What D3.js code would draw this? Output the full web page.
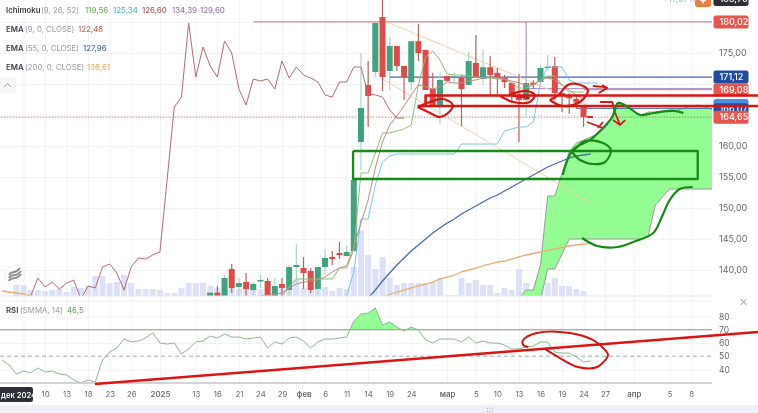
<!DOCTYPE html>
<meta charset="utf-8">
<style>
  html, body { margin: 0; padding: 0; background: #fff; overflow: hidden; }
  svg { display: block; font-family: Inter, "Noto Sans", sans-serif; filter: blur(0.35px); }
</style>

<!-- Load d3.js -->
<script src="https://d3js.org/d3.v7.min.js"></script>

<div id="my_dataviz"></div>

<script>

// bar index: 0 is the tick before "10", one bar per trading day
var candleStart = 26
var opens  = [135.65,136.34,135.65,140.16,137.26,138.06,136.77,138.23,138.23,135.65,137.74,136.77,140.48,140.32,139.84,136.94,140.48,142.1,142.74,142.26,143.06,160.65,169.84,171.94,180.8,172.1,176.13,172.9,170.3,176.9,175.5,169.2,166.6,171.3,171,171,169.84,173.4,170.8,172.7,171.8,171,170.16,167.9,167.4,170.2,170.32,172.6,172.9,168.55,168,167.6,166.29]
var highs  = [136.34,137.47,139.19,140.97,138.71,139.52,138.06,139.19,138.71,138.71,138.71,140.81,144.19,142.1,140.32,140.48,143.39,143.06,144.52,143.87,154.52,175,173.7,179.84,183.7,177.6,176.13,172.9,176.9,179.7,175.5,171.8,171.9,171.3,171.9,171.45,175.2,177.9,175.6,174.5,172.6,171.45,170.3,171.6,170.2,170.6,173.06,174.68,174.35,168.55,168.5,168,166.29]
var lows   = [135.65,135.65,135.65,136.29,135.65,135.81,135.65,137.1,135.65,135.65,135.65,135.65,138.06,136.94,136.29,135.97,139.19,140.81,141.77,142.26,143.06,156.13,163.06,171.13,168.87,169.03,172.1,167.4,169.03,173.7,169.03,166.45,163.5,170.5,170.2,163.2,169.84,171.1,169.84,168.2,167.9,169.35,167,160.65,164.52,169.2,170.32,172.3,167.42,165.5,165.2,166,163.06]
var closes = [136.34,135.65,138.71,137.1,137.9,136.94,137.74,138.39,135.65,137.42,137.1,140.48,140.81,139.52,136.77,140.48,141.94,141.77,142.42,142.9,154.52,166.13,168.06,179.84,171.13,176.13,172.9,171.13,176.9,175,169.03,166.45,170.65,170.5,171.2,169.2,173.7,171.1,172.7,171.45,171.1,170.3,168.2,167.4,170.16,169.9,172.58,172.8,168.55,168.23,167.7,167,164.65]

var volumeStart = -1
var volumes = [11,11,6,6,5,6,7,4,9,8,10,20,20,13,14,21,13,7,7,7,6,3,3,8,13,13,13,10,8,9,11,7,9,8,7,3,6,8,11,16,8,7,9,9,5,8,7,29,66,41,27,39,18,11,13,13,13,13,14,18,0.5,1,18,13,16,11,11,3,8,6,27,13,5,7,13,18,10,10,7,5]

// ichimoku
var chikouStart = 0
var chikou = [134,135.81,138.71,137.26,138.06,136.94,137.9,138.39,135.3,137.42,137.1,140.48,140.97,139.52,136.77,140.48,141.94,141.77,142.42,142.9,154.52,166.29,167.9,179.84,171.13,175.97,172.9,171.13,176.94,175,169.19,166.61,170.81,170.48,170.81,169.19,173.71,170.97,172.74,171.45,170.97,170.32,168.23,167.9,170.32,170.32,172.74,172.74,168.39,168.23,167.9,165.81,164.52,164.52]
var tenkanStart = 36
var tenkan = [135.81,137.26,138.55,138.55,138.55,138.55,138.55,138.55,140.32,140.32,143.23,155.65,155.65,158.87,162.1,162.1,162.42,162.74,163.39,169.84,174.35,175.32,173.87,171.61,171.45,171.45,171.29,171.13,170.97,170.97,170.81,170.81,170.16,169.35,169.35,169.84,170.65,171.29,171.29,169.84,168.71,168.71,168.71]
var kijunStart = 45
var kijun = [135.81,139.68,148.23,148.23,153.71,157.42,158.39,158.71,158.71,158.71,158.71,158.71,158.71,158.71,158.71,158.71,160.32,160.32,160.32,160.32,160.32,160.32,162.42,162.74,163.06,163.06,163.87,170.16,172.74,172.74,172.74,170.65,170.16,170.16,170.16,170.16]
var cloudStart = 69
var spanA = [135.48,136.77,136.77,140.81,151.94,151.94,155.65,159.03,160.48,160.97,161.45,161.94,162.9,164.52,167.1,166.29,165.65,165,165.48,165.48,165.65,165.81,165.81,166.13,166.45,166.61,166.29,165.81]
var spanB = [135.16,135.16,135.16,135.16,140.16,140.16,142.58,145,145,145,145,145,145,145,145,145,145,145,145.48,150.48,151.77,153.06,153.06,153.06,153.06,153.06,153.06,153.06]

// emas
var ema9Start = 33
var ema9 = [135.81,135.97,136.13,136.29,137.1,137.74,138.06,138.23,138.39,138.87,139.68,140.32,140.65,143.71,147.58,151.29,156.45,160.65,163.39,164.84,166.45,168.23,169.84,169.52,169.19,169.52,170.32,170.16,170.16,170.48,170.65,170.97,171.13,170.97,170.81,170.48,170.16,169.84,169.84,170.65,170.97,170.65,169.84,169.03,168.23,167.42]
var ema55Start = 48
var ema55 = [135.48,136.77,138.23,139.52,140.81,141.94,143.06,144.03,145,145.97,146.77,147.58,148.23,149.03,149.68,150.32,150.97,151.61,152.1,152.74,153.39,154.03,154.68,155.32,155.97,156.61,157.1,157.58,158.06,158.39,158.55,158.71]
var ema200LeftStart = -3
var ema200Left = [136.61,136.45,136.29,136.13,135.81]
var ema200Start = 50
var ema200 = [135.65,136.05,136.45,136.77,137.1,137.42,137.74,138.06,138.55,138.87,139.19,139.68,140,140.32,140.65,140.97,141.29,141.45,141.77,142.1,142.42,142.66,142.9,143.15,143.39,143.63,143.87,144.03,144.19,144.35]

// rsi
var rsiStart = -3
var rsi = [47.1,43.3,36.5,38.8,37.3,41.1,38,38.8,36.5,35.8,32,29.7,32,30.5,47.1,53.2,56.2,63,60.8,61.5,63.8,67.6,60,59.2,60,51.7,55.5,60.8,61.5,65.3,63.8,66.8,64.5,64.5,63,63.8,64.5,56.2,60.8,59.2,63.8,64.5,61.5,56.2,60.8,63,63,63.8,64.5,76.7,82,82.7,86.5,73.6,75.9,72.1,69.1,72.1,69.8,62.3,60,63,63,63,60.8,64.5,60,61.5,60,60,58.5,55.5,55.5,57,57.7,60.8,60.8,53.2,52.4,52.4,49.4,45.6,46.5]

// axis labels
var dateTicks  = [3,6,9,12,15,19,24,27,30,33,36,39,42,45,48,51,54,59,63,66,69,72,75,78,81,85,90,93]
var dateLabels = ["10","13","18","23","26","2025","13","16","21","24","29","фев","6","11","14","19","24","мар","5","10","13","16","19","24","27","апр","5","8"]
var boldLabels = ["2025","фев","мар","апр"]
var priceTicks = [175,160,155,150,145,140]
var priceGrid  = [180,175,170,165,160,155,150,145,140]
var rsiTicks   = [80,70,60,50,40]

// price levels and drawn trend lines, [bar, price]
var highLevel = 180.02
var kijunLevel = 171.12
var redLevel = 169.08
var purpleLevel = 169.24
var blueLevel = 166.07
var lastPrice = 164.65
var topLevel = 183.7
var purpleStart = 70
var trendUpper = [[50,180.3],[79,166.3]]
var trendLower = [[50,170.8],[79,150.8]]

// hand drawn marks, [bar, price]
var redRect = [[102.3,168.15],[56,168.15],[56,166.45],[102.3,166.45]]
var redBottomLead = [[54.9,166.45],[56,166.45]]
var redScribbles = [
  [[54.9,166.29],[56.5,165.4],[58,164.68],[59,165.2],[59.8,166.61],[58.4,167.58],[56.2,166.94],[54.9,166.29]],
  [[66.4,168.06],[68.2,167.1],[70.5,167.1],[71.2,168.23],[70.1,168.87],[67.8,168.23],[70.5,167.74]],
  [[73.3,167.42],[75.1,166.45],[77.5,167.1],[78.6,169.03],[77.1,170],[75.8,169.84],[74.5,168.23],[73.3,167.42]]
]
var redStrokes = [
  [[79.3,169.68],[80.7,169.52],[81.3,169.35]],
  [[80.6,169.84],[81.3,169.35],[80.1,168.55]],
  [[80.3,167.1],[82,167.1],[82.4,165.32],[83.1,163.39]],
  [[82.1,164.19],[83.1,163.39],[83.8,164.19]],
  [[78.5,164.68],[79.3,164.68]],
  [[78.5,163.87],[80.7,162.9]],
  [[80,162.9],[80.7,163.87]]
]
var greenBox = [[45.9,159.19],[93.9,159.19],[93.9,154.68],[45.9,154.68],[45.9,159.19]]
var greenCurves = [
  [[75.1,155.32],[76.5,159.35],[78.9,160.97],[80.7,162.9],[82,164.68],[82.8,166.94],[84.2,166.29],[85.9,165],[87.7,165.32],[90.5,165.65],[91.9,165.32]],
  [[76.5,159.03],[78.2,160.81],[80.7,160.48],[81.8,159.35],[81,157.42],[79.3,157.1],[77.5,157.74],[76.4,159.03]],
  [[77.8,145.16],[79.9,143.87],[82.7,143.71],[84.9,144.52],[87.7,145.97],[88.9,148.55],[90,151.29],[91.4,153.06],[93.2,153.39]]
]
// [bar, rsi]
var rsiRedLine = [[9.96,28.94],[102.3,68.33]]
var rsiEllipse = [[70.3,57],[69.6,58.5],[69.6,62.3],[71.5,67.6],[76.1,67.6],[79.3,62.3],[81,54.7],[81.4,50.9],[79.9,41.8],[77.2,41.8],[74.7,48.6],[72.6,55.5]]

var width = 758, height = 413
var chartRight = 712, chartBottom = 296, rsiTop = 301, rsiBottom = 383

var svg = d3.select("#my_dataviz").append("svg")
  .attr("width", width)
  .attr("height", height)

var x = d3.scaleLinear().domain([0, 96]).range([23.5, 712.8])
var y = d3.scaleLinear().domain([160, 180]).range([146, 22])
var yVol = d3.scaleLinear().domain([0, 66]).range([chartBottom, 230])
var yRsi = d3.scaleLinear().domain([40, 80]).range([369.4, 316.6])

function fmt(d) { return d3.format(".2f")(d).replace(".", ",") }
function toPoints(start, values) { return values.map(function(v, i) { return [start + i, v] }) }

var defs = svg.append("defs")
defs.append("clipPath").attr("id", "mainClip").append("rect")
  .attr("x", 0).attr("y", 0).attr("width", chartRight).attr("height", chartBottom)
defs.append("clipPath").attr("id", "rsiClip").append("rect")
  .attr("x", 0).attr("y", rsiTop).attr("width", chartRight).attr("height", rsiBottom - rsiTop)
defs.append("clipPath").attr("id", "over70").append("rect")
  .attr("x", 0).attr("y", rsiTop).attr("width", chartRight).attr("height", yRsi(70) - rsiTop)

// footer stripe
svg.append("rect").attr("x", 0).attr("y", 405).attr("width", width).attr("height", 8).attr("fill", "#eff0f6")
svg.append("text").attr("x", 490).attr("y", 412).attr("text-anchor", "middle")
  .attr("font-size", 8).attr("fill", "#8b8f9c").text(":::")

// grid
var gridColor = "#f2f3f6"
var gridX = svg.append("g").attr("transform", "translate(0," + rsiBottom + ")")
  .call(d3.axisBottom(x).tickValues([0].concat(dateTicks)).tickSize(-rsiBottom).tickFormat(""))
gridX.select(".domain").remove()
gridX.selectAll("line").attr("stroke", gridColor)

var gridY = svg.append("g").attr("transform", "translate(" + chartRight + ",0)")
  .call(d3.axisLeft(y).tickValues(priceGrid).tickSize(chartRight).tickFormat(""))
gridY.select(".domain").remove()
gridY.selectAll("line").attr("stroke", gridColor)

var gridRsi = svg.append("g").attr("transform", "translate(" + chartRight + ",0)")
  .call(d3.axisLeft(yRsi).tickValues([80, 60, 40]).tickSize(chartRight).tickFormat(""))
gridRsi.select(".domain").remove()
gridRsi.selectAll("line").attr("stroke", gridColor)

// main pane
var main = svg.append("g").attr("clip-path", "url(#mainClip)")

main.selectAll(".vol")
  .data(toPoints(volumeStart, volumes))
  .enter().append("rect")
    .attr("class", "vol")
    .attr("x", function(d) { return x(d[0]) - 3 })
    .attr("width", 6)
    .attr("y", function(d) { return yVol(d[1]) })
    .attr("height", function(d) { return chartBottom - yVol(d[1]) })
    .attr("fill", "#dde1f8")

// cloud
var cloudData = spanA.map(function(a, i) { return { k: cloudStart + i, a: a, b: spanB[i] } })
main.append("path")
  .datum(cloudData)
  .attr("fill", "#93fd93")
  .attr("d", d3.area()
    .x(function(d) { return x(d.k) })
    .y0(function(d) { return y(d.b) })
    .y1(function(d) { return y(d.a) })
  )

var priceLine = d3.line()
  .x(function(d) { return x(d[0]) })
  .y(function(d) { return y(d[1]) })

function addLine(group, pts, color, w) {
  return group.append("path")
    .datum(pts)
    .attr("fill", "none")
    .attr("stroke", color)
    .attr("stroke-width", w)
    .attr("stroke-linejoin", "round")
    .attr("d", priceLine)
}

addLine(main, toPoints(cloudStart, spanA), "#9a9a9a", 1)
addLine(main, toPoints(cloudStart, spanB), "#9a9a9a", 1)

// levels
var right = x.domain()[1]
addLine(main, [[32, highLevel], [right, highLevel]], "#c9716b", 1)
addLine(main, [[51, kijunLevel], [right, kijunLevel]], "#3f69ad", 1.2)
addLine(main, [[78, redLevel], [right, redLevel]], "#d9746e", 1)
addLine(main, [[purpleStart, highLevel], [purpleStart, purpleLevel], [right, purpleLevel]], "#a47fb8", 1)
addLine(main, [[77, blueLevel], [right, blueLevel]], "#3f69ad", 1)
addLine(main, [[-4, lastPrice], [right, lastPrice]], "#b4605c", 0.8).attr("stroke-dasharray", "1.5,1.5")
addLine(main, [[-4, topLevel], [right, topLevel]], "#aaa", 1).attr("stroke-dasharray", "1.5,2")

// trend lines
addLine(main, trendUpper, "#f2d3ae", 1)
addLine(main, trendLower, "#f2d3ae", 1)

// candles
var candles = opens.map(function(o, i) {
  return { k: candleStart + i, o: o, h: highs[i], l: lows[i], c: closes[i] }
})
main.selectAll(".wick")
  .data(candles)
  .enter().append("line")
    .attr("class", "wick")
    .attr("x1", function(d) { return x(d.k) })
    .attr("x2", function(d) { return x(d.k) })
    .attr("y1", function(d) { return y(d.h) })
    .attr("y2", function(d) { return y(d.l) })
    .attr("stroke", function(d) { return d.c >= d.o ? "#a8d6c7" : "#c2605d" })
    .attr("stroke-width", 1.2)
main.selectAll(".body")
  .data(candles)
  .enter().append("rect")
    .attr("class", "body")
    .attr("x", function(d) { return x(d.k) - 3 })
    .attr("width", 6)
    .attr("y", function(d) { return y(Math.max(d.o, d.c)) })
    .attr("height", function(d) { return Math.max(1.5, Math.abs(y(d.o) - y(d.c))) })
    .attr("fill", function(d) { return d.c >= d.o ? "#3fa380" : "#e14a4a" })

// indicators
addLine(main, toPoints(tenkanStart, tenkan), "#93bd7c", 1)
addLine(main, toPoints(kijunStart, kijun), "#7cc3e6", 1)
addLine(main, toPoints(chikouStart, chikou), "#b9696b", 1)
addLine(main, toPoints(ema9Start, ema9), "#c48b7c", 1)
addLine(main, toPoints(ema55Start, ema55), "#4a6ea5", 1.3)
addLine(main, toPoints(ema200LeftStart, ema200Left), "#e9ae74", 1.3)
addLine(main, toPoints(ema200Start, ema200), "#e9ae74", 1.3)

// pane borders
svg.append("line").attr("x1", 0).attr("x2", chartRight).attr("y1", chartBottom).attr("y2", chartBottom).attr("stroke", "#e6e7ec")
svg.append("line").attr("x1", 0).attr("x2", chartRight).attr("y1", rsiTop).attr("y2", rsiTop).attr("stroke", "#eeeff3")

// rsi pane
var rsiLine = d3.line()
  .x(function(d) { return x(d[0]) })
  .y(function(d) { return yRsi(d[1]) })
var rsiPane = svg.append("g").attr("clip-path", "url(#rsiClip)")
rsiPane.append("path")
  .datum(toPoints(rsiStart, rsi))
  .attr("clip-path", "url(#over70)")
  .attr("fill", "#93fd93")
  .attr("d", d3.area()
    .x(function(d) { return x(d[0]) })
    .y0(yRsi(70))
    .y1(function(d) { return yRsi(d[1]) })
  )
rsiPane.append("line").attr("x1", 0).attr("x2", chartRight).attr("y1", yRsi(70)).attr("y2", yRsi(70))
  .attr("stroke", "#8e8e8e").attr("stroke-width", 1)
rsiPane.append("line").attr("x1", 0).attr("x2", chartRight).attr("y1", yRsi(50)).attr("y2", yRsi(50))
  .attr("stroke", "#aaa").attr("stroke-width", 1).attr("stroke-dasharray", "4,3")
rsiPane.append("path")
  .datum(toPoints(rsiStart, rsi))
  .attr("fill", "none").attr("stroke", "#8cb98a").attr("stroke-width", 1)
  .attr("d", rsiLine)

// axes
var axisColor = "#666a73"
var rsiAxis = svg.append("g").attr("transform", "translate(716,0)")
  .call(d3.axisRight(yRsi).tickValues(rsiTicks).tickSize(0).tickPadding(3))
rsiAxis.select(".domain").remove()
rsiAxis.selectAll("text").attr("fill", axisColor).attr("font-size", 8.5).attr("font-family", "Inter")

var priceAxis = svg.append("g").attr("transform", "translate(716,0)")
  .call(d3.axisRight(y).tickValues(priceTicks).tickFormat(fmt).tickSize(0).tickPadding(3))
priceAxis.select(".domain").remove()
priceAxis.selectAll("text").attr("fill", axisColor).attr("font-size", 9).attr("font-family", "Inter")

var dateAxis = svg.append("g").attr("transform", "translate(0," + rsiBottom + ")")
  .call(d3.axisBottom(x).tickValues(dateTicks)
    .tickFormat(function(d, i) { return dateLabels[i] }).tickSize(0).tickPadding(8))
dateAxis.select(".domain").remove()
dateAxis.selectAll("text")
  .attr("fill", axisColor).attr("font-size", 7.8).attr("font-family", "Inter")
  .attr("font-weight", function(d, i) { return boldLabels.indexOf(dateLabels[i]) >= 0 ? 600 : 400 })
svg.append("line").attr("x1", 0).attr("x2", chartRight).attr("y1", rsiBottom).attr("y2", rsiBottom)
  .attr("stroke", "#c4c5ca").attr("stroke-width", 1.6)

// date flag
svg.append("rect").attr("x", -4).attr("y", 387).attr("width", 37).attr("height", 15).attr("rx", 2.5).attr("fill", "#2c2f36")
svg.append("text").attr("x", 1).attr("y", 397.5).attr("fill", "#fff").attr("font-size", 7.6).attr("font-weight", 600).text("дек 2024")

// price flags
function priceFlag(value, label, color, h) {
  var g = svg.append("g").attr("transform", "translate(713.5," + y(value) + ")")
  g.append("rect").attr("x", 0).attr("y", -h / 2).attr("width", 35).attr("height", h).attr("rx", 2.5).attr("fill", color)
  g.append("text").attr("x", 6).attr("y", 3.2).attr("fill", "#fff").attr("font-size", 9).attr("font-weight", 500).text(label)
}
priceFlag(topLevel, fmt(topLevel), "#2c2f36", 14)
priceFlag(highLevel, fmt(highLevel), "#e6564c", 13)
priceFlag(kijunLevel, fmt(kijunLevel), "#1f4c9c", 13)
priceFlag(redLevel, fmt(redLevel), "#e6564c", 13)
svg.append("rect").attr("x", 713.5).attr("y", 99).attr("width", 35).attr("height", 8).attr("rx", 2.5).attr("fill", "#4a90e2")
priceFlag(blueLevel, fmt(blueLevel), "#1f4c9c", 10)
priceFlag(lastPrice, fmt(lastPrice), "#e6564c", 13)

// top right controls
svg.append("rect").attr("x", 695).attr("y", -8).attr("width", 16).attr("height", 15).attr("rx", 2.5).attr("fill", "#ee7d3c")
svg.append("text").attr("x", 703).attr("y", 4).attr("text-anchor", "middle").attr("fill", "#fff").attr("font-size", 11).attr("font-weight", 700).text("+")
svg.append("text").attr("x", 662).attr("y", 2).attr("fill", "#8fc79a").attr("font-size", 9).text("+11,57%")
svg.append("text").attr("x", 743).attr("y", 306).attr("text-anchor", "middle").attr("fill", "#b0b2b8").attr("font-size", 11).text("✕")

// legend
var legendRows = [
  { name: "Ichimoku", args: "(9, 26, 52)", y: 13, argX: 41, values: [["119,56", 85, "#6fb35a"], ["125,34", 113, "#4fb3dc"], ["126,60", 142, "#a85a5e"], ["134,39", 172, "#9a77b0"], ["129,60", 200, "#9a77b0"]] },
  { name: "EMA", args: "(9, 0, CLOSE)", y: 32, argX: 25, values: [["122,48", 78, "#c0695f"]] },
  { name: "EMA", args: "(55, 0, CLOSE)", y: 51, argX: 25, values: [["127,96", 83, "#4a6ea5"]] },
  { name: "EMA", args: "(200, 0, CLOSE)", y: 70, argX: 25, values: [["136,61", 87, "#eaae6c"]] }
]
legendRows.forEach(function(r) {
  svg.append("text").attr("x", 6).attr("y", r.y).attr("fill", "#3b3e45").attr("font-size", 7.8).attr("font-weight", 600).text(r.name)
  svg.append("text").attr("x", r.argX).attr("y", r.y).attr("fill", "#9a9ca3").attr("font-size", 7.8).text(r.args)
  r.values.forEach(function(v) {
    svg.append("text").attr("x", v[1]).attr("y", r.y).attr("fill", v[2]).attr("font-size", 7.8).attr("font-weight", 500).text(v[0])
  })
})
svg.append("text").attr("x", 6).attr("y", 313).attr("fill", "#3b3e45").attr("font-size", 7.8).attr("font-weight", 600).text("RSI")
svg.append("text").attr("x", 20).attr("y", 313).attr("fill", "#9a9ca3").attr("font-size", 7.8).text("(SMMA, 14)")
svg.append("text").attr("x", 67).attr("y", 313).attr("fill", "#6fae6a").attr("font-size", 7.8).attr("font-weight", 500).text("46,5")

// collapse button
svg.append("rect").attr("x", 0).attr("y", 77).attr("width", 16).attr("height", 16).attr("rx", 3).attr("fill", "#f6f6f8")
svg.append("path").attr("d", "M4,87L7.5,83.5L11,87").attr("fill", "none").attr("stroke", "#9a9ca3")

// logo
svg.append("circle").attr("cx", 15).attr("cy", 275).attr("r", 10).attr("fill", "#fff").attr("stroke", "#f0f0f3")
var wave = svg.append("g").attr("fill", "none").attr("stroke", "#8b8d94").attr("stroke-width", 2)
wave.append("path").attr("d", "M9,275C11,270 15,275 20,268")
wave.append("path").attr("d", "M9,278C11,273 16,278 21,271")
wave.append("path").attr("d", "M9,281C11,276 16,281 21,274")

// hand drawn marks on top of everything
var handRed = "#dd1414"
addLine(svg, redRect, handRed, 2.6)
addLine(svg, redBottomLead, handRed, 2.6)
var smooth = d3.line().curve(d3.curveCatmullRom)
  .x(function(d) { return x(d[0]) })
  .y(function(d) { return y(d[1]) })
redScribbles.forEach(function(pts) {
  svg.append("path").datum(pts).attr("fill", "none").attr("stroke", handRed).attr("stroke-width", 2.2).attr("d", smooth)
})
redStrokes.forEach(function(pts) {
  addLine(svg, pts, handRed, 1.8)
})

var handGreen = "#178a17"
addLine(svg, greenBox, handGreen, 2.3)
greenCurves.forEach(function(pts) {
  svg.append("path").datum(pts).attr("fill", "none").attr("stroke", handGreen).attr("stroke-width", 2.2).attr("d", smooth)
})

svg.append("path").datum(rsiRedLine).attr("fill", "none").attr("stroke", handRed).attr("stroke-width", 2.4).attr("d", rsiLine)
svg.append("path").datum(rsiEllipse).attr("fill", "none").attr("stroke", "#d61414").attr("stroke-width", 2)
  .attr("d", d3.line().curve(d3.curveCatmullRom)
    .x(function(d) { return x(d[0]) })
    .y(function(d) { return yRsi(d[1]) }))

</script>
